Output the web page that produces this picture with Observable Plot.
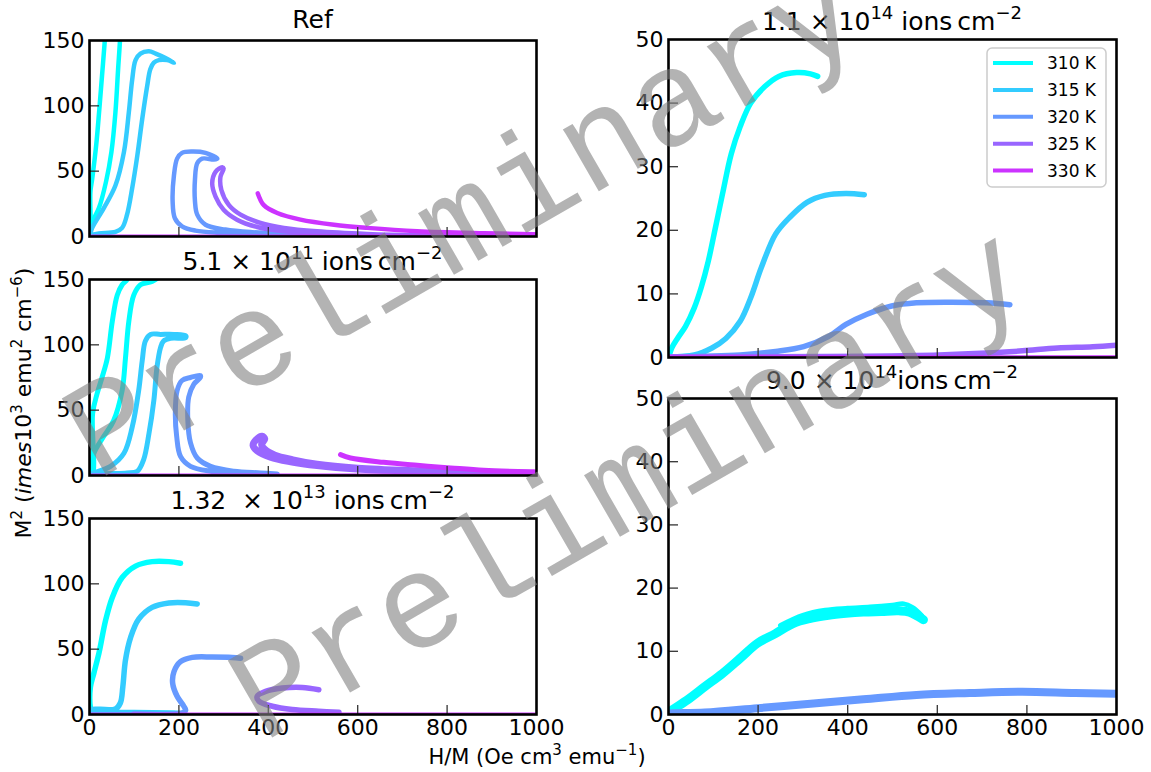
<!DOCTYPE html>
<html><head><meta charset="utf-8">
<script src="https://cdn.jsdelivr.net/npm/d3@7"></script>
<script src="https://cdn.jsdelivr.net/npm/@observablehq/plot@0.6"></script>
<style>
html,body{margin:0;padding:0;background:#fff;}
#fig{position:relative;width:1151px;height:772px;overflow:hidden;font-family:"DejaVu Sans",sans-serif;background:#fff;}
#fig > .pn{position:absolute;}
#fig svg{overflow:visible;}
#overlay{position:absolute;left:0;top:0;pointer-events:none;}
</style></head>
<body><div id="fig"></div>
<script>
// ---------- categories / ticks ----------
const temps = ["310 K","315 K","320 K","325 K","330 K"];
const colors = ["#00ffff","#33ccff","#6699ff","#9966ff","#cc33ff"];
const xTicks = [0,200,400,600,800,1000];
const yTicksLeft = [0,50,100,150];
const yTicksRight = [0,10,20,30,40,50];

// ---------- Ref panel (x: H/M, y: M^2 x10^3) ----------
const ref310a = [[0,0.5],[2,2],[2,34],[6,44],[15,70],[22,97.5],[28,123],[34,149],[37,165]];
const ref310b = [[2,1],[2,4],[7,11.6],[21,21.7],[37,42],[49,64.6],[58,95],[64,128],[68,149],[70,165]];
const ref315 = [[2,1],[21,2.3],[58,3.5],[73,6.6],[84,16.7],[95.5,37],[107,62],[118,90],[129,115],[136,128],[144,133],[155,135],[174,135],[189,133],[170,136.6],[148,140],[133,141.7],[114,140],[103,135],[95.5,120],[88,95],[77,64.6],[58,39],[32,21.7],[6,6.6],[2,2]];
const ref320 = [[448,1],[364,2],[289,2.8],[237,4.5],[207,7.8],[191,14],[186,26.7],[189,47],[196,59.6],[207,64],[230,65],[259.5,64],[286,59.6],[278,59],[252,59.6],[241,56],[236,44],[236,26.7],[241,16.7],[259.5,9],[304,5.3],[364,3.3],[438,2.3],[600,1.2]];
const ref325 = [[1000,0.5],[800,0.8],[621,1],[509,2.3],[435,4],[375,7.3],[330,12.9],[300,20.5],[282,30.5],[274.5,40.7],[282,49.5],[297,53],[300,52],[293,45.7],[295,35.6],[312,24],[338,16.7],[382.5,10.4],[435,6.6],[509,4],[621,2],[733,1],[900,0.6]];
const ref330 = [[376.5,33],[390,24],[420,18],[472,12.9],[547,9],[621,6.6],[733,4],[882,2.5],[994,1.8],[1010,1.7]];
const ref330base = [[0,0.3],[1010,0.3]];

// ---------- 5.1e11 panel ----------
const p2_310a = [[0,0.5],[2,2],[7,2],[7,47.5],[17,62.6],[28,75],[40,90],[51,118],[62,138],[73,146],[84,150],[90,160]];
const p2_310b = [[2,1],[4.5,6],[9.7,17],[32,30],[54,42],[73,65],[80.5,90],[88,118],[99,138],[114,146],[140,148.5],[160,153]];
const p2_315 = [[2,1],[47,1.5],[84,2],[107,3.3],[121,12],[133,32],[144,57.6],[151,83],[159,98],[166,103],[181,105],[215,105.5],[215,107],[189,108],[159,108],[136.5,108],[125,103],[118,88],[110,65],[95.5,37],[77,17],[47,7],[9.7,2],[2,1]];
const p2_320 = [[382.5,1],[368,1.5],[323,2],[271,3.3],[226,7],[203.6,14.6],[195,30],[192,47.5],[196,65],[207,72.7],[226,75],[248,76.5],[248,75],[233.5,70],[222,60],[220,42],[226,25],[241,13.4],[271,7],[323,3.3],[382.5,2],[420,1.2]];
const p2_325 = [[1000,1.5],[882,2],[733,3.3],[599,5],[509,7.6],[450,10.5],[405,14],[375,19],[366,23],[372,27],[386,30],[392,28],[385,24],[392,20],[415,15.5],[455,12],[509,8.6],[600,5.6],[733,3.6],[882,2.2],[1000,1.6]];
const p2_330 = [[561.5,16],[584,13.4],[658,10.1],[733,7.8],[808,5.8],[882,4],[994,2.8],[1010,2.7]];
const p2_330base = [[0,0.3],[1010,0.3]];

// ---------- 1.32e13 panel ----------
const p3_310 = [[190,0.8],[60,1.2],[5,1.5],[2,5],[2,21],[9.7,31.6],[21,46.7],[36,72],[51,89.6],[73,104.8],[103,113.6],[140,117],[177.5,117],[203.6,115.7]];
const p3_315 = [[200,1],[100,1.5],[2,2.5],[2,3.8],[58,4.3],[69,8.8],[74.6,21.4],[80.5,41.7],[92,59],[110,73],[140,82],[177.5,85.4],[215,85.6],[241,84.6]];
const p3_320 = [[100,0.6],[205,1],[215,3.3],[211,6.3],[196,13.9],[186,24],[189,32.8],[203.6,40.4],[230,43.7],[274.5,44],[319,43.7],[338,43]];
const p3_325 = [[558,1.7],[513,2.5],[453.5,3.8],[409,6.3],[379,10.1],[375,13.9],[394,17.7],[431,20.2],[476,20.7],[513,19]];
const p3_330base = [[0,0.3],[1010,0.3]];

// ---------- 1.1e14 panel ----------
const p4_310 = [[0,0.2],[2,0.5],[8,1.6],[20,3],[38,4.9],[57.5,7.8],[73,11],[89,15.2],[105,20.5],[120.5,25.7],[140,32],[160,36.3],[183.5,40],[215,42.6],[246,44.2],[286,44.8],[317,44.6],[333,44.2]];
const p4_315 = [[2,0.1],[57.5,0.4],[97,1.5],[128,3],[160,5.7],[183.5,9.4],[207,14.1],[239,19.4],[270,22],[309,24.4],[349,25.5],[396,25.8],[437,25.6]];
const p4_320 = [[2,0.1],[160,0.4],[239,0.95],[301.6,1.7],[357,3.3],[396,5.2],[443,6.8],[498,8.1],[553.5,8.6],[632,8.7],[711,8.6],[762,8.3]];
const p4_325 = [[2,0.1],[553.5,0.3],[711,0.7],[790,1.05],[868.5,1.5],[947,1.7],[1010,2.0]];
const p4_330 = [[0,0.1],[1010,0.1]];

// ---------- 9.0e14 panel ----------
const p5_310 = [[0,0.2],[2,0.4],[42,2.3],[81,4.4],[120.5,6.5],[160,8.9],[199,11.3],[238.6,12.8],[278,14.4],[317,15.2],[357,15.7],[396,16],[435,16.2],[475,16.3],[514,16.4],[538,16.2],[569,15]];
const p5_310edge = [[250,14.1],[300,15.7],[350,16.5],[400,16.8],[450,17],[500,17.3],[525,17.5],[545,16.9],[566,15.6]];
const p5_320 = [[0,0.1],[2,0.15],[81,0.3],[199,1],[317,1.7],[435,2.4],[553.5,3.1],[672,3.4],[790,3.6],[908,3.4],[1000,3.3],[1010,3.3]];

// ---------- series table (panel, temperature, points) ----------
const series = [
  ["ref","310 K",ref310a],["ref","310 K",ref310b],["ref","315 K",ref315],["ref","320 K",ref320],
  ["ref","325 K",ref325],["ref","330 K",ref330],["ref","330 K",ref330base],
  ["p2","310 K",p2_310a],["p2","310 K",p2_310b],["p2","315 K",p2_315],["p2","320 K",p2_320],
  ["p2","325 K",p2_325],["p2","330 K",p2_330],["p2","330 K",p2_330base],
  ["p3","310 K",p3_310],["p3","315 K",p3_315],["p3","320 K",p3_320],["p3","325 K",p3_325],["p3","330 K",p3_330base],
  ["p4","310 K",p4_310],["p4","315 K",p4_315],["p4","320 K",p4_320],["p4","325 K",p4_325],["p4","330 K",p4_330],
  ["p5","310 K",p5_310],["p5","310 K",p5_310edge],["p5","320 K",p5_320]
];

// ---------- layout & style (not data) ----------
const panels = [
  {id:"ref", fx:89,  fy:40,  fw:447, fh:196, ymax:150, yt:yTicksLeft,  showX:false, lw:4.5},
  {id:"p2",  fx:89,  fy:279, fw:447, fh:196, ymax:150, yt:yTicksLeft,  showX:false, lw:5},
  {id:"p3",  fx:89,  fy:518, fw:447, fh:196, ymax:150, yt:yTicksLeft,  showX:true,  lw:5.5},
  {id:"p4",  fx:668, fy:39,  fw:448, fh:318, ymax:50,  yt:yTicksRight, showX:false, lw:5.5},
  {id:"p5",  fx:668, fy:398, fw:448, fh:316, ymax:50,  yt:yTicksRight, showX:true,  lw:9}
];
const widthOverride = new Map([[ref330base,3],[p2_330base,3],[p3_330base,3],[p4_330,3],[p2_325,7],[p5_320,8],[p5_310edge,5]]);

const fig = document.getElementById("fig");
const fmt = d => String(d);

for (const P of panels) {
  const mL = 70, mR = 10, mT = 10, mB = P.showX ? 40 : 10;
  const marks = [];
  series.filter(s => s[0] === P.id).forEach(s => {
    const rows = s[2].map(([x, y]) => ({T: s[1], x, y}));
    const w = widthOverride.get(s[2]) ?? P.lw;
    marks.push(Plot.line(rows, {x: "x", y: "y", stroke: "T", strokeWidth: w,
      curve: "catmull-rom", strokeLinecap: "round", strokeLinejoin: "round", clip: true}));
  });
  marks.push(Plot.tickX(xTicks.slice(1, -1), {x: d => d, insetTop: P.fh - 9, stroke: "#333", strokeWidth: 1.3}));
  marks.push(Plot.tickY(P.yt.slice(1, -1), {y: d => d, insetRight: P.fw - 10, stroke: "#333", strokeWidth: 1.3}));
  marks.push(Plot.frame({stroke: "black", strokeWidth: 2.6}));
  marks.push(Plot.axisY(P.yt, {tickSize: 0, tickPadding: 5, fontSize: 22, tickFormat: fmt, label: null}));
  if (P.showX) marks.push(Plot.axisX(xTicks, {tickSize: 0, tickPadding: 5, fontSize: 22, tickFormat: fmt, label: null}));
  const svg = Plot.plot({
    width: mL + P.fw + mR, height: mT + P.fh + mB,
    marginLeft: mL, marginRight: mR, marginTop: mT, marginBottom: mB,
    x: {domain: [0, 1000], axis: null},
    y: {domain: [0, P.ymax], axis: null},
    color: {domain: temps, range: colors},
    style: {fontFamily: "DejaVu Sans", fontSize: "22px", color: "black", background: "transparent", overflow: "visible"},
    marks
  });
  const div = document.createElement("div");
  div.className = "pn";
  div.style.left = (P.fx - mL) + "px";
  div.style.top = (P.fy - mT) + "px";
  div.appendChild(svg);
  fig.appendChild(div);
}

// ---------- overlay: titles, axis labels, legend, watermark ----------
const sup = (t, fs) => `<tspan dy="-${Math.round(fs*0.42)}" font-size="${Math.round(fs*0.7)}">${t}</tspan><tspan dy="${Math.round(fs*0.42)}">`;
function title(x, y, lead, exp, mid, fs) {
  return `<text x="${x}" y="${y}" text-anchor="middle" font-size="${fs}">${lead}10${sup(exp, fs)}${mid}ions\u2009cm</tspan>${sup("−2", fs)}</tspan></text>`;
}
const legendRows = temps.map((t, i) => {
  const y = 63 + i * 26.9;
  return `<line x1="993" x2="1033" y1="${y}" y2="${y}" stroke="${colors[i]}" stroke-width="4"/>` +
         `<text x="1047" y="${y + 6}" font-size="17">${t}</text>`;
}).join("");

const ov = `
<svg id="overlay" width="1151" height="772" font-family="DejaVu Sans" fill="black">
  <text x="312.5" y="28" text-anchor="middle" font-size="25">Ref</text>
  ${title(312.5, 270, "5.1\u00a0×\u00a0", "11", "\u00a0", 25)}
  ${title(312.5, 509, "1.32\u00a0\u00a0×\u00a0", "13", "\u00a0", 25)}
  ${title(892, 30, "1.1\u00a0×\u00a0", "14", "\u00a0", 25)}
  ${title(892, 389, "9.0\u00a0×\u00a0", "14", "", 25)}
  <text x="537" y="764" text-anchor="middle" font-size="21">H/M (Oe cm${sup("3", 21)} emu</tspan>${sup("−1", 21)})</tspan></text>
  <text transform="translate(31,403) rotate(-90)" text-anchor="middle" font-size="22">M${sup("2", 22)} (<tspan font-style="italic">imes</tspan>10</tspan>${sup("3", 22)} emu</tspan>${sup("2", 22)} cm</tspan>${sup("−6", 22)})</tspan></text>
  <rect x="987" y="48" width="119" height="139" rx="5" fill="white" fill-opacity="0.85" stroke="#cccccc" stroke-width="1.5"/>
  ${legendRows}
  <g font-family="Liberation Mono" font-size="135" fill="#808080" fill-opacity="0.6" text-anchor="middle">
    <text x="483" y="258" transform="rotate(-30 483 258)">Preliminary</text>
    <text x="649" y="520" transform="rotate(-30 649 520)">Preliminary</text>
  </g>
</svg>`;
fig.insertAdjacentHTML("beforeend", ov);
</script>
</body></html>
